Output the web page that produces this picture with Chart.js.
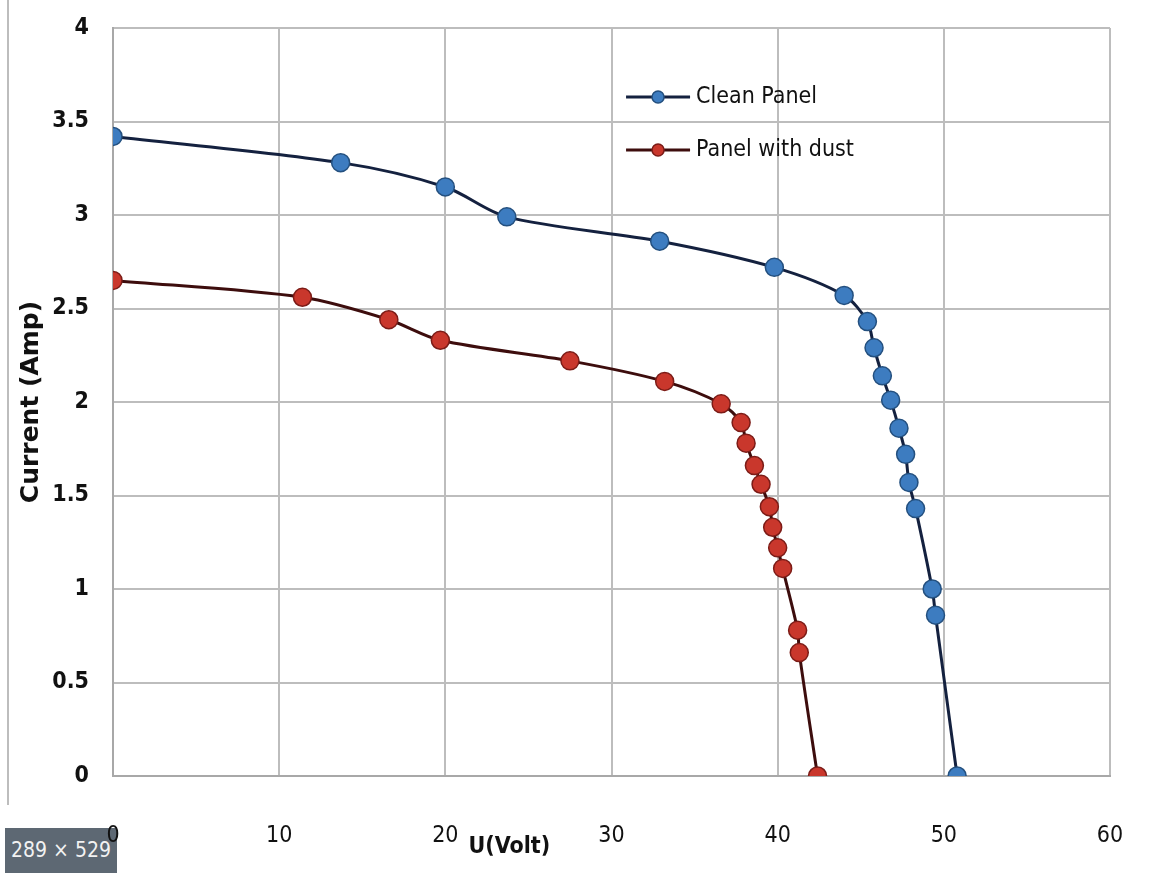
<!DOCTYPE html>
<html>
<head>
<meta charset="utf-8">
<script src="https://cdn.jsdelivr.net/npm/chart.js@4/dist/chart.umd.min.js"></script>
<style>
  html, body { margin: 0; padding: 0; background: #fff; }
  #wrap { position: relative; width: 1151px; height: 873px; }
  #c { position: absolute; left: 0; top: 0; z-index: 2; }
  #edge { position: absolute; left: 7px; top: 0; width: 2px; height: 805px; background: #bdbdbd; z-index: 1; }
  #badge {
    position: absolute; left: 5px; top: 828px; width: 112px; height: 45px; z-index: 1;
    background: #5d6873; color: #f2f2f2;
    font: 21px "DejaVu Sans Condensed", sans-serif;
    line-height: 45px; text-align: center;
  }
</style>
</head>
<body>
<div id="wrap">
  <div id="edge"></div>
  <div id="badge">289 × 529</div>
  <canvas id="c" width="1151" height="873"></canvas>
</div>
<script>
/* global Chart */

const voltsClean = [0, 13.7, 20.0, 23.7, 32.9, 39.8, 44.0, 45.4, 45.8, 46.3, 46.8, 47.3, 47.7, 47.9, 48.3, 49.3, 49.5, 50.8];
const ampsClean = [3.42, 3.28, 3.15, 2.99, 2.86, 2.72, 2.57, 2.43, 2.29, 2.14, 2.01, 1.86, 1.72, 1.57, 1.43, 1.0, 0.86, 0];

const voltsDust = [0, 11.4, 16.6, 19.7, 27.5, 33.2, 36.6, 37.8, 38.1, 38.6, 39.0, 39.5, 39.7, 40.0, 40.3, 41.2, 41.3, 42.4];
const ampsDust = [2.65, 2.56, 2.44, 2.33, 2.22, 2.11, 1.99, 1.89, 1.78, 1.66, 1.56, 1.44, 1.33, 1.22, 1.11, 0.78, 0.66, 0];

const seriesNames = ['Clean Panel', 'Panel with dust'];
const xTitle = 'U(Volt)';
const yTitle = 'Current (Amp)';

const toPoints = (xs, ys) => xs.map((x, i) => ({ x, y: ys[i] }));

const narrow = '"DejaVu Sans Condensed", "Liberation Sans Narrow", sans-serif';
const gridColor = '#bdbdbd';

// legend drawn inside the plot, plus x title sitting among the tick labels
const extras = {
  id: 'extras',
  afterDraw(chart) {
    const ctx = chart.ctx;
    const area = chart.chartArea;
    ctx.save();
    const lx = area.left + (area.right - area.left) * 0.5146;
    const rows = [area.top + 69, area.top + 122];
    chart.data.datasets.forEach((ds, i) => {
      const y = rows[i];
      ctx.strokeStyle = ds.borderColor;
      ctx.lineWidth = 3;
      ctx.beginPath();
      ctx.moveTo(lx, y);
      ctx.lineTo(lx + 64, y);
      ctx.stroke();
      ctx.fillStyle = ds.pointBackgroundColor;
      ctx.strokeStyle = ds.pointBorderColor;
      ctx.lineWidth = 1.5;
      ctx.beginPath();
      ctx.arc(lx + 32, y, 6, 0, Math.PI * 2);
      ctx.fill();
      ctx.stroke();
      ctx.fillStyle = '#111';
      ctx.font = '23px ' + narrow;
      ctx.textBaseline = 'middle';
      ctx.textAlign = 'left';
      ctx.fillText(ds.label, lx + 70, y);
    });
    ctx.font = 'bold 23px ' + narrow;
    ctx.textAlign = 'center';
    ctx.textBaseline = 'middle';
    ctx.fillStyle = '#111';
    ctx.fillText(xTitle, area.left + (area.right - area.left) * 0.3975, 847);
    ctx.restore();
  }
};

new Chart(document.getElementById('c').getContext('2d'), {
  type: 'line',
  data: {
    datasets: [
      {
        label: seriesNames[0],
        data: toPoints(voltsClean, ampsClean),
        borderColor: '#14213f',
        borderWidth: 3,
        pointBackgroundColor: '#3d7cc0',
        pointBorderColor: '#24507f',
        pointBorderWidth: 1.5,
        pointRadius: 9,
        tension: 0.3,
        fill: false
      },
      {
        label: seriesNames[1],
        data: toPoints(voltsDust, ampsDust),
        borderColor: '#3d0d0d',
        borderWidth: 3,
        pointBackgroundColor: '#c9372c',
        pointBorderColor: '#7c1c17',
        pointBorderWidth: 1.5,
        pointRadius: 9,
        tension: 0.3,
        fill: false
      }
    ]
  },
  options: {
    responsive: false,
    animation: false,
    layout: { padding: { top: 28, right: 41, left: 0, bottom: 0 } },
    scales: {
      x: {
        type: 'linear',
        min: 0,
        max: 60,
        ticks: {
          stepSize: 10,
          padding: 46,
          color: '#111',
          font: { family: narrow, size: 23 }
        },
        grid: { color: gridColor, lineWidth: 2, drawTicks: false },
        border: { color: '#a8a8a8', width: 2 },
        afterFit: (s) => {
          s.height = 97;
          s.paddingLeft = 0;
          s.paddingRight = 0;
        }
      },
      y: {
        min: 0,
        max: 4,
        ticks: {
          stepSize: 0.5,
          padding: 24,
          color: '#111',
          font: { family: narrow, size: 23, weight: 'bold', lineHeight: 0.3 },
          callback: (v) => String(Number(v.toFixed(1)))
        },
        title: {
          display: true,
          text: yTitle,
          color: '#111',
          font: { family: '"DejaVu Sans", sans-serif', size: 25, weight: 'bold' },
          padding: { top: 16, bottom: 0 }
        },
        grid: { color: gridColor, lineWidth: 2, drawTicks: false },
        border: { color: '#a8a8a8', width: 2 },
        afterFit: (s) => { s.width = 113; }
      }
    },
    plugins: {
      legend: { display: false },
      tooltip: { enabled: false }
    }
  },
  plugins: [extras]
});
</script>
</body>
</html>
